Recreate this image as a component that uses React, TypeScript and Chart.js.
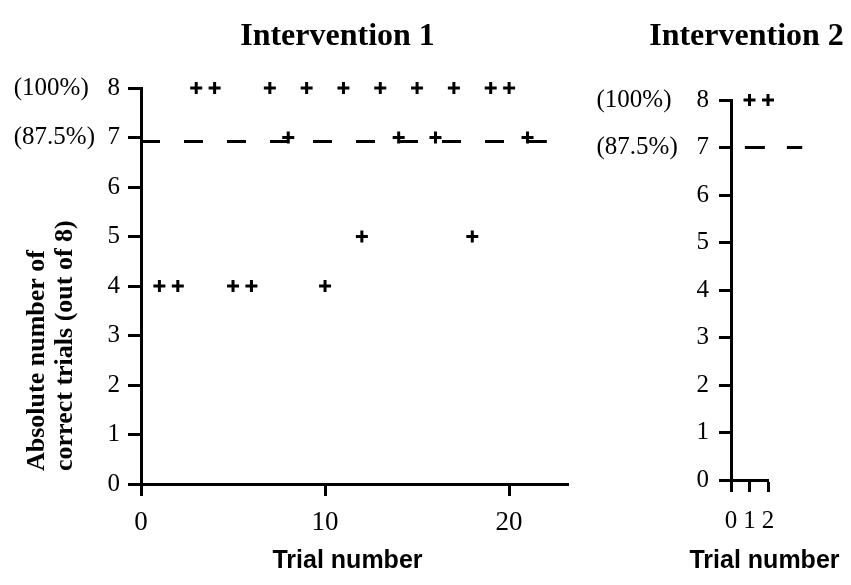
import React, { useEffect, useRef } from "react";
import { Chart, registerables } from "chart.js";

Chart.register(...registerables);

// ---- Data ----
const trials1 = [1, 2, 3, 4, 5, 6, 7, 8, 9, 10, 11, 12, 13, 14, 15, 16, 17, 18, 19, 20, 21];
const correct1 = [4, 4, 8, 8, 4, 4, 8, 7, 8, 4, 8, 5, 8, 7, 8, 7, 8, 5, 8, 8, 7];
const trials2 = [1, 2];
const correct2 = [8, 8];

const criterionLine1X = [0, 22.05];
const criterionLine1Y = [6.92, 6.92];
const criterionLine2X = [0.75, 3.85];
const criterionLine2Y = [7, 7];

const yTicks = [0, 1, 2, 3, 4, 5, 6, 7, 8];
const yTickLabels1 = ["0", "1", "2", "3", "4", "5", "6", "(87.5%)  7", "(100%)   8"];
const yTickLabels2 = ["0", "1", "2", "3", "4", "5", "6", "(87.5%)   7", "(100%)    8"];
const xTicks1 = [0, 10, 20];
const xTicks2 = [0, 1, 2];

const title1 = "Intervention 1";
const title2 = "Intervention 2";
const xTitle = "Trial number";
const yTitle1 = ["  Absolute number of", "  correct trials (out of 8)"];

const SERIF = "'Liberation Serif', 'Times New Roman', serif";
const SANS = "'Liberation Sans', Arial, sans-serif";

// Draws the panel heading and the x-axis title as free text (no width squeeze).
const panelText = {
  id: "panelText",
  afterDraw(chart: any, _args: any, opts: any) {
    const { ctx, chartArea } = chart;
    const cx = (chartArea.left + chartArea.right) / 2;
    ctx.save();
    ctx.fillStyle = "#000";
    ctx.textAlign = "center";
    ctx.textBaseline = "middle";
    ctx.font = `bold 32px ${SERIF}`;
    ctx.fillText(opts.title, cx + opts.titleDx, opts.titleY);
    ctx.font = `bold 25px ${SANS}`;
    ctx.fillText(opts.xTitle, cx + opts.xTitleDx, opts.xTitleY);
    ctx.restore();
  },
};

type PanelCfg = {
  xs: number[];
  ys: number[];
  lineX: number[];
  lineY: number[];
  xMax: number;
  xTicks: number[];
  yLabels: string[];
  title: string;
  titleDx: number;
  xTitleDx: number;
  yTitle: string[] | null;
  yWidth: number;
  xHeight: number;
  padRight: number;
  padTop: number;
  xTickSize: number;
  xTickPad: number;
  yTickPad: number;
  yTickLen: number;
  dash: number[];
};

function buildConfig(p: PanelCfg): any {
  return {
    type: "scatter",
    data: {
      datasets: [
        {
          type: "line",
          data: p.lineX.map((x, i) => ({ x, y: p.lineY[i] })),
          borderColor: "#000",
          borderWidth: 3,
          borderDash: p.dash,
          pointRadius: 0,
          showLine: true,
          fill: false,
          clip: false,
        },
        {
          type: "scatter",
          data: p.xs.map((x, i) => ({ x, y: p.ys[i] })),
          pointStyle: "cross",
          pointRadius: 6,
          pointBorderWidth: 3,
          borderColor: "#000",
          backgroundColor: "#000",
          borderWidth: 3,
          clip: false,
        },
      ],
    },
    plugins: [panelText],
    options: {
      responsive: false,
      animation: false,
      events: [],
      layout: { padding: { top: p.padTop, left: 0, right: p.padRight, bottom: 0 } },
      plugins: {
        legend: { display: false },
        tooltip: { enabled: false },
        title: { display: false },
        panelText: {
          title: p.title,
          titleDx: p.titleDx,
          titleY: 37,
          xTitle: xTitle,
          xTitleDx: p.xTitleDx,
          xTitleY: 561,
        },
      },
      scales: {
        x: {
          type: "linear",
          min: 0,
          max: p.xMax,
          afterBuildTicks: (s: any) => {
            s.ticks = p.xTicks.map((v) => ({ value: v }));
          },
          afterFit: (s: any) => {
            s.height = p.xHeight;
          },
          grid: {
            display: true,
            drawOnChartArea: false,
            drawTicks: true,
            tickLength: 12,
            tickWidth: 3,
            tickColor: "#000",
          },
          border: { display: true, color: "#000", width: 3 },
          ticks: {
            color: "#000",
            font: { family: SERIF, size: p.xTickSize },
            padding: p.xTickPad,
            maxRotation: 0,
            autoSkip: false,
          },
          title: { display: false },
        },
        y: {
          type: "linear",
          min: 0,
          max: 8,
          afterBuildTicks: (s: any) => {
            s.ticks = yTicks.map((v) => ({ value: v }));
          },
          afterFit: (s: any) => {
            s.width = p.yWidth;
          },
          grid: {
            display: true,
            drawOnChartArea: false,
            drawTicks: true,
            tickLength: p.yTickLen,
            tickWidth: 3,
            tickColor: "#000",
          },
          border: { display: true, color: "#000", width: 3 },
          ticks: {
            color: "#000",
            font: { family: SERIF, size: 25 },
            padding: p.yTickPad,
            autoSkip: false,
            callback: (v: number) => {
              const idx = yTicks.indexOf(v);
              return idx >= 0 ? p.yLabels[idx] : "";
            },
          },
          title: p.yTitle
            ? {
                display: true,
                text: p.yTitle,
                align: "start",
                color: "#000",
                font: { family: SERIF, size: 26, weight: "bold", lineHeight: 1.05 },
                padding: { top: 24, bottom: 0 },
              }
            : { display: false },
        },
      },
    },
  };
}

function Panel(props: { cfg: PanelCfg; left: number; width: number }) {
  const ref = useRef<HTMLCanvasElement | null>(null);
  useEffect(() => {
    if (!ref.current) return;
    const chart = new Chart(ref.current, buildConfig(props.cfg));
    return () => chart.destroy();
  }, []);
  return (
    <canvas
      ref={ref}
      width={props.width}
      height={585}
      style={{ position: "absolute", left: props.left, top: 0, width: props.width, height: 585 }}
    />
  );
}

export default function App() {
  const left: PanelCfg = {
    xs: trials1,
    ys: correct1,
    lineX: criterionLine1X,
    lineY: criterionLine1Y,
    xMax: 23.2,
    xTicks: xTicks1,
    yLabels: yTickLabels1,
    title: title1,
    titleDx: -17,
    xTitleDx: -7,
    yTitle: yTitle1,
    yWidth: 141,
    xHeight: 101,
    padRight: 12,
    padTop: 88,
    xTickSize: 27,
    xTickPad: 11,
    yTickPad: 8,
    yTickLen: 13,
    dash: [19, 24],
  };
  const right: PanelCfg = {
    xs: trials2,
    ys: correct2,
    lineX: criterionLine2X,
    lineY: criterionLine2Y,
    xMax: 2,
    xTicks: xTicks2,
    yLabels: yTickLabels2,
    title: title2,
    titleDx: -3,
    xTitleDx: 15,
    yTitle: null,
    yWidth: 151,
    xHeight: 105,
    padRight: 83,
    padTop: 100,
    xTickSize: 25,
    xTickPad: 14,
    yTickPad: 10,
    yTickLen: 12,
    dash: [20, 22],
  };
  return (
    <div style={{ position: "absolute", left: 0, top: 0, width: 851, height: 585, background: "#fff", overflow: "hidden" }}>
      <Panel cfg={left} left={0} width={580} />
      <Panel cfg={right} left={580} width={271} />
    </div>
  );
}
